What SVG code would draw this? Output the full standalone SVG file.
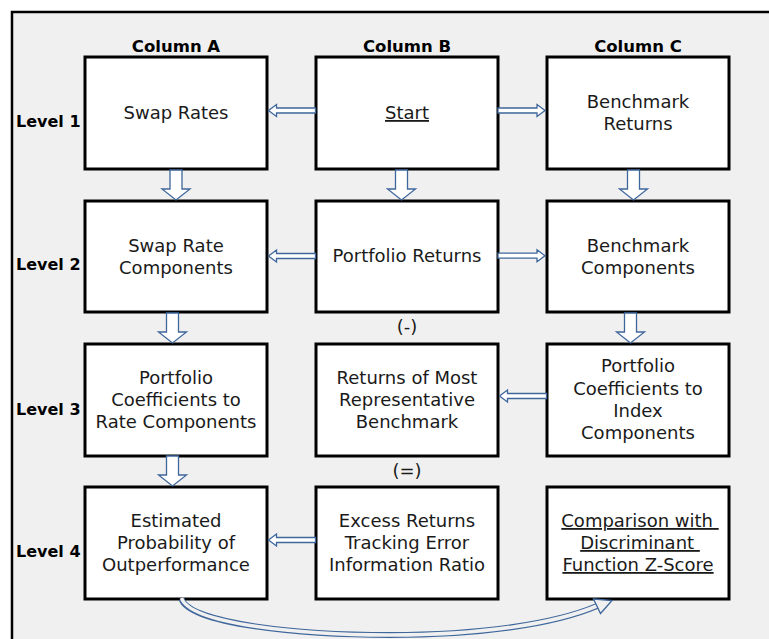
<svg xmlns="http://www.w3.org/2000/svg" width="769" height="639" viewBox="0 0 769 639">
<style>
.node rect{fill:#ffffff;stroke:#000000;stroke-width:3}
.t{font-family:"DejaVu Sans",Verdana,sans-serif;font-size:18px;fill:#1a1a1a;text-anchor:middle}
.h{font-family:"DejaVu Sans",Verdana,sans-serif;font-size:16.5px;font-weight:bold;fill:#000;text-anchor:middle}
.lv{font-family:"DejaVu Sans",Verdana,sans-serif;font-size:16px;font-weight:bold;fill:#000}
.u{text-decoration:underline;white-space:pre}
.arr{fill:#ffffff;stroke:#3f679b;stroke-width:1.3;stroke-linejoin:miter}
</style>
<rect x="0" y="0" width="769" height="639" fill="#ffffff"/>
<rect x="12" y="12" width="780" height="640" fill="#f0f0f0" stroke="#000" stroke-width="2.5"/>
<g id="headers">
<text class="h" x="176" y="52">Column A</text>
<text class="h" x="407" y="52">Column B</text>
<text class="h" x="638" y="52">Column C</text>
<text class="lv" x="16" y="127">Level 1</text>
<text class="lv" x="16" y="270">Level 2</text>
<text class="lv" x="16" y="415">Level 3</text>
<text class="lv" x="16" y="557">Level 4</text>
<text class="t" x="407" y="333">(-)</text>
<text class="t" x="407" y="477">(=)</text>
</g>
<g id="swap-rates" class="node"><rect x="85" y="57" width="182" height="112"/><text class="t" x="176" y="119">Swap Rates</text></g>
<g id="start" class="node"><rect x="316" y="57" width="182" height="112"/><text class="t u" x="407" y="119">Start</text></g>
<g id="benchmark-returns" class="node"><rect x="547" y="57" width="182" height="112"/><text class="t" x="638" y="108">Benchmark</text><text class="t" x="638" y="130">Returns</text></g>
<g id="swap-rate-components" class="node"><rect x="85" y="201" width="182" height="111"/><text class="t" x="176" y="252">Swap Rate</text><text class="t" x="176" y="274">Components</text></g>
<g id="portfolio-returns" class="node"><rect x="316" y="201" width="182" height="111"/><text class="t" x="407" y="262">Portfolio Returns</text></g>
<g id="benchmark-components" class="node"><rect x="547" y="201" width="182" height="111"/><text class="t" x="638" y="252">Benchmark</text><text class="t" x="638" y="274">Components</text></g>
<g id="portfolio-coefficients-rate" class="node"><rect x="85" y="344" width="182" height="112"/><text class="t" x="176" y="384">Portfolio</text><text class="t" x="176" y="406">Coefficients to</text><text class="t" x="176" y="428">Rate Components</text></g>
<g id="returns-most-representative" class="node"><rect x="316" y="344" width="182" height="112"/><text class="t" x="407" y="384">Returns of Most</text><text class="t" x="407" y="406">Representative</text><text class="t" x="407" y="428">Benchmark</text></g>
<g id="portfolio-coefficients-index" class="node"><rect x="547" y="344" width="182" height="112"/><text class="t" x="638" y="372">Portfolio</text><text class="t" x="638" y="394.5">Coefficients to</text><text class="t" x="638" y="417">Index</text><text class="t" x="638" y="439">Components</text></g>
<g id="estimated-probability" class="node"><rect x="85" y="487" width="182" height="112"/><text class="t" x="176" y="527">Estimated</text><text class="t" x="176" y="549">Probability of</text><text class="t" x="176" y="571">Outperformance</text></g>
<g id="excess-returns" class="node"><rect x="316" y="487" width="182" height="112"/><text class="t" x="407" y="527">Excess Returns</text><text class="t" x="407" y="549">Tracking Error</text><text class="t" x="407" y="571">Information Ratio</text></g>
<g id="comparison" class="node"><rect x="547" y="487" width="182" height="112"/><text class="t u" x="640" y="527">Comparison with </text><text class="t u" x="640" y="549">Discriminant </text><text class="t u" x="638" y="571">Function Z-Score</text></g>
<g id="connectors">
<defs>
<path id="dn" d="M-6,0 H6 V19 H14 L0,30 L-14,19 H-6 Z"/>
<path id="lf" d="M0,0 L8,-6 V-2.5 H47 V2.5 H8 V6 Z"/>
</defs>
<use href="#dn" class="arr" x="176" y="170"/>
<use href="#dn" class="arr" x="401.5" y="170"/>
<use href="#dn" class="arr" x="633.5" y="170"/>
<use href="#dn" class="arr" x="172.5" y="313"/>
<use href="#dn" class="arr" x="630.5" y="313"/>
<use href="#dn" class="arr" x="172.5" y="456"/>
<use href="#lf" class="arr" x="268.5" y="110.5"/>
<use href="#lf" class="arr" transform="translate(1043.5,0) scale(-1,1)" x="498.5" y="110.5"/>
<use href="#lf" class="arr" x="268.5" y="256"/>
<use href="#lf" class="arr" transform="translate(1043.5,0) scale(-1,1)" x="498.5" y="255.7"/>
<use href="#lf" class="arr" x="499.5" y="396"/>
<use href="#lf" class="arr" x="268.5" y="540"/>
<path d="M181.5,599 C190,624 300,635 390,635 C480,635 555,624 597,606" fill="none" stroke="#3f679b" stroke-width="6"/>
<path d="M181.5,598 C190,624 300,635 390,635 C480,635 555,624 598,605.5" fill="none" stroke="#f0f0f0" stroke-width="3.6"/>
<polygon points="593.5,599 612,600.5 600.5,613.5" fill="#f0f0f0" stroke="#3f679b" stroke-width="1.3" stroke-linejoin="miter"/>
</g>
</svg>
